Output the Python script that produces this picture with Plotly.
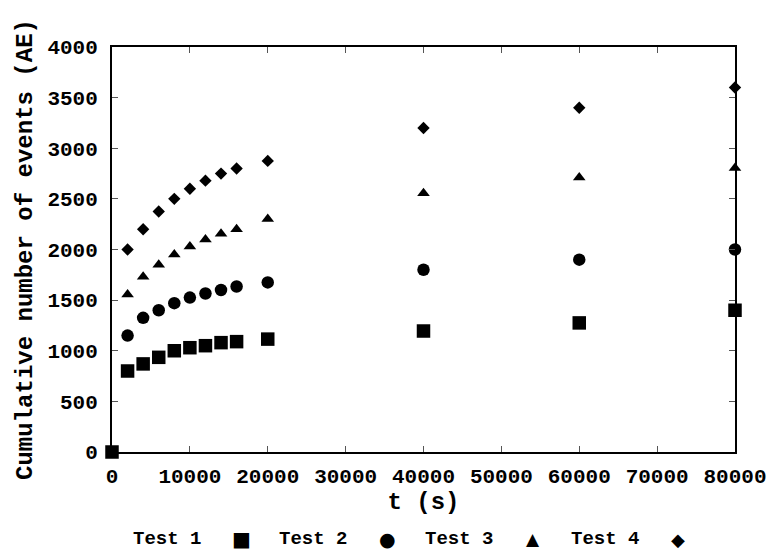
import plotly.graph_objects as go

# Data
t_test1 = [0, 2000, 4000, 6000, 8000, 10000, 12000, 14000, 16000, 20000, 40000, 60000, 80000]
ae_test1 = [0, 800, 870, 935, 1000, 1030, 1050, 1080, 1090, 1115, 1195, 1275, 1400]

t_tests = [2000, 4000, 6000, 8000, 10000, 12000, 14000, 16000, 20000, 40000, 60000, 80000]
ae_test2 = [1150, 1325, 1400, 1470, 1525, 1565, 1600, 1635, 1675, 1800, 1900, 2000]
ae_test3 = [1555, 1730, 1850, 1950, 2030, 2100, 2155, 2200, 2300, 2555, 2710, 2805]
ae_test4 = [2000, 2200, 2375, 2500, 2600, 2680, 2750, 2800, 2875, 3200, 3400, 3600]

series_names = ["Test 1", "Test 2", "Test 3", "Test 4"]
x_ticks = [0, 10000, 20000, 30000, 40000, 50000, 60000, 70000, 80000]
y_ticks = [0, 500, 1000, 1500, 2000, 2500, 3000, 3500, 4000]

FONT = "Liberation Mono"
W, H = 776, 554
ML, MR, MT, MB = 112, 41, 47, 102

fig = go.Figure()
specs = [
    (t_test1, ae_test1, "square", 13.5),
    (t_tests, ae_test2, "circle", 12.5),
    (t_tests, ae_test3, "triangle-up", 11),
    (t_tests, ae_test4, "diamond", 9.5),
]
for name, (xs, ys, sym, sz) in zip(series_names, specs):
    fig.add_trace(go.Scatter(
        x=xs, y=ys, mode="markers", name=name,
        marker=dict(symbol=sym, size=sz, color="black", line=dict(width=0)),
        cliponaxis=False, showlegend=False,
    ))

axis_common = dict(
    showline=True, linecolor="black", linewidth=2, mirror="ticks",
    ticks="inside", ticklen=6, tickwidth=1, tickcolor="#555",
    showgrid=False, zeroline=False,
    tickfont=dict(family=FONT, size=21, color="black", weight="bold"),
)

fig.update_xaxes(
    range=[0, 80000], tickvals=x_ticks, tickformat="d",
    ticklabelstandoff=4,
    title=dict(text="t (s)", font=dict(family=FONT, size=24, color="black", weight="bold"), standoff=1),
    **axis_common,
)
fig.update_yaxes(
    range=[0, 4000], tickvals=y_ticks, tickformat="d",
    ticklabelstandoff=8,
    title=dict(text="Cumulative number of events (AE)", font=dict(family=FONT, size=24, color="black", weight="bold"), standoff=8),
    **axis_common,
)

# Legend drawn gnuplot style: text first, then the symbol
plot_w = W - ML - MR
plot_h = H - MT - MB
def px_to_paper_x(px):
    return (px - ML) / plot_w
def px_to_paper_y(py):
    return (H - MB - py) / plot_h

legend_y = 539
text_centers = [167, 313, 459, 605]
sym_centers = [241, 387, 533, 678]
sym_chars = ["\u25A0", "\u25CF", "\u25B2", "\u25C6"]
sym_sizes = [20, 19, 17, 18]
for name, tx, sx, ch, ss in zip(series_names, text_centers, sym_centers, sym_chars, sym_sizes):
    fig.add_annotation(x=px_to_paper_x(tx), y=px_to_paper_y(legend_y), xref="paper", yref="paper",
                       text=name, showarrow=False, xanchor="center", yanchor="middle",
                       font=dict(family=FONT, size=19, color="black", weight="bold"))
    fig.add_annotation(x=px_to_paper_x(sx), y=px_to_paper_y(legend_y), xref="paper", yref="paper",
                       text=ch, showarrow=False, xanchor="center", yanchor="middle",
                       font=dict(family="DejaVu Sans", size=ss, color="black"))

fig.update_layout(
    width=W, height=H,
    margin=dict(l=ML, r=MR, t=MT, b=MB, autoexpand=False),
    paper_bgcolor="white", plot_bgcolor="white",
    showlegend=False,
)

fig.write_html(
    "out.html",
    config={"displayModeBar": False},
    post_script="document.body.style.margin='0';document.body.style.padding='0';document.body.style.overflow='hidden';",
)
